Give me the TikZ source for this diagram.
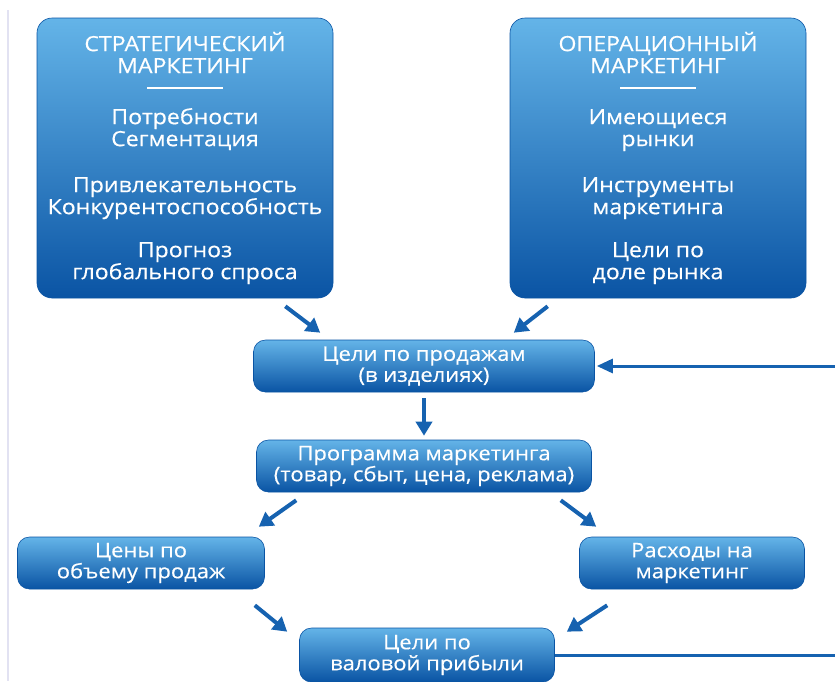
\documentclass[tikz,border=0pt]{standalone}
\usepackage{fontspec}
\setmainfont{Open Sans}[FakeStretch=1.1, FakeBold=0.4]
\usetikzlibrary{arrows.meta, positioning, calc}
\definecolor{boxtop}{RGB}{100,180,232}
\definecolor{boxbot}{RGB}{10,84,164}
\definecolor{arrowblue}{RGB}{22,98,176}
\definecolor{edgeline}{RGB}{226,226,242}
\tikzset{
    bigbox/.style={rectangle, rounded corners=15pt, top color=boxtop, bottom color=boxbot, draw=boxbot, line width=0.6pt, minimum width=296pt, minimum height=280pt, text=white, align=center, inner sep=0pt, font=\fontsize{21}{22}\selectfont},
    goal/.style={rectangle, rounded corners=12pt, top color=boxtop, bottom color=boxbot, draw=boxbot, line width=0.6pt, minimum height=52pt, text=white, align=center, inner sep=0pt, font=\fontsize{20}{21}\selectfont},
    arrow/.style={-{Triangle[length=14pt, width=16pt]}, line width=4pt, draw=arrowblue},
    feed/.style={line width=3pt, draw=arrowblue}
}
\newcommand{\titlerule}{\rule[6pt]{76pt}{2.2pt}}

\begin{document}
\begin{tikzpicture}[x=1pt, y=-1pt]
    \useasboundingbox (0,0) rectangle (835,681);
    \draw[edgeline, line width=1.5pt] (8,10) -- (8,681);

    % Two kinds of marketing
    \node[bigbox] (strat) at (185,158) {СТРАТЕГИЧЕСКИЙ\\МАРКЕТИНГ\\\titlerule\\[7pt]
        Потребности\\Сегментация\\[24pt]
        Привлекательность\\Конкурентоспособность\\[21pt]
        Прогноз\\глобального спроса};
    \node[bigbox] (oper) at (658,158) {ОПЕРАЦИОННЫЙ\\МАРКЕТИНГ\\\titlerule\\[7pt]
        Имеющиеся\\рынки\\[24pt]
        Инструменты\\маркетинга\\[21pt]
        Цели по\\доле рынка};

    % Goals and programme
    \node[goal, minimum width=341pt] (sales) at (424,366) {Цели по продажам\\(в изделиях)};
    \node[goal, minimum width=335pt] (program) at (424,466) {Программа маркетинга\\(товар, сбыт, цена, реклама)};
    \node[goal, minimum width=247pt] (prices) at (141,563) {Цены по\\объему продаж};
    \node[goal, minimum width=225pt] (costs) at (692,563) {Расходы на\\маркетинг};
    \node[goal, minimum width=255pt, minimum height=54pt] (profit) at (427,655) {Цели по\\валовой прибыли};

    \coordinate (fbin) at (835,366);
    \coordinate (fbout) at (835,655);

    \draw[arrow] ($(strat.south east)+(-48,8)$) -- ($(sales.north west)+(67,-7)$);
    \draw[arrow] ($(oper.south west)+(38,8)$) -- ($(sales.north east)+(-81,-7)$);
    \draw[arrow] ($(sales.south)+(0,6)$) -- ($(program.north)+(0,-4)$);
    \draw[arrow] ($(program.south west)+(40,8)$) -- ($(prices.north east)+(-6,-10)$);
    \draw[arrow] ($(program.south east)+(-31,8)$) -- ($(costs.north west)+(17,-10)$);
    \draw[arrow] ($(prices.south east)+(-10,16)$) -- ($(profit.north west)+(-12,4)$);
    \draw[arrow] ($(costs.south west)+(28,16)$) -- ($(profit.north east)+(12,4)$);

    % Feedback line
    \draw[feed, -{Triangle[length=16pt, width=14pt]}] (fbin) -- ($(sales.east)+(2,0)$);
    \draw[feed] (profit) -- (fbout);
\end{tikzpicture}
\end{document}
